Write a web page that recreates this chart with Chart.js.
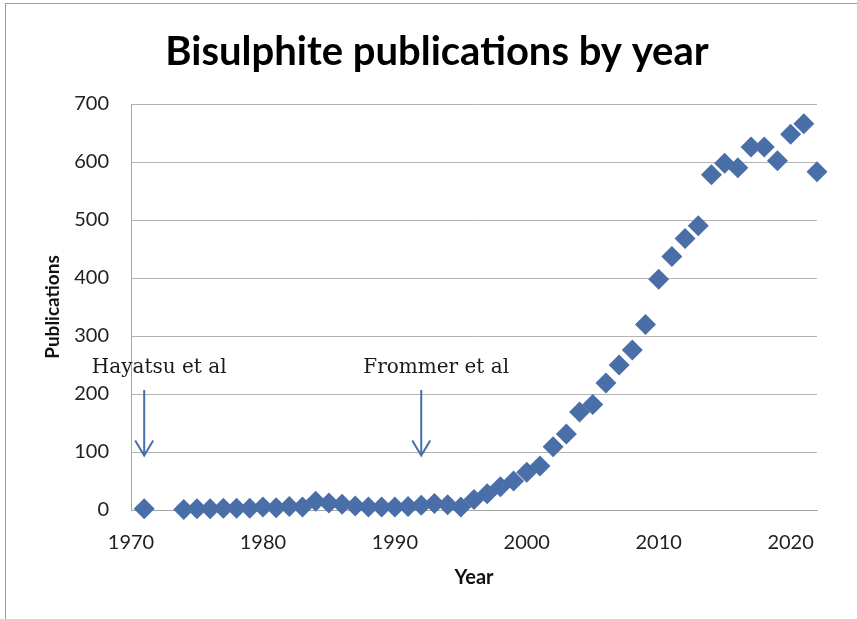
<!DOCTYPE html>
<html>
<head>
<meta charset="utf-8">
<script src="https://cdn.jsdelivr.net/npm/chart.js@4/dist/chart.umd.min.js"></script>
<style>
  html, body { margin: 0; padding: 0; background: #fff; }
  #wrap { position: relative; width: 857px; height: 619px; overflow: hidden; }
  #frame { position: absolute; left: 5px; top: 3px; right: -2px; bottom: -2px;
           border-top: 1px solid #9c9c9c; border-left: 1px solid #9c9c9c; pointer-events: none; }
  canvas { display: block; }
</style>
</head>
<body>
<div id="wrap">
  <canvas id="chart" width="857" height="619"></canvas>
  <div id="frame"></div>
</div>
<script>
// Publications per year
const years = [1971,
  1974, 1975, 1976, 1977, 1978, 1979, 1980, 1981, 1982, 1983,
  1984, 1985, 1986, 1987, 1988, 1989, 1990, 1991, 1992, 1993,
  1994, 1995, 1996, 1997, 1998, 1999, 2000, 2001, 2002, 2003,
  2004, 2005, 2006, 2007, 2008, 2009, 2010, 2011, 2012, 2013,
  2014, 2015, 2016, 2017, 2018, 2019, 2020, 2021, 2022];
const publications = [2,
  1, 2, 2, 3, 3, 3, 5, 4, 6, 5,
  15, 12, 10, 7, 5, 5, 5, 6, 8, 11,
  9, 5, 18, 28, 40, 50, 65, 76, 109, 131,
  169, 182, 219, 250, 276, 320, 398, 437, 468, 490,
  578, 598, 590, 626, 626, 602, 648, 666, 583];

// Axis ranges
const xRange = [1970, 2022];
const xStep = 10;
const yRange = [0, 700];
const yStep = 100;

// Milestone papers marked with arrows
const milestoneYears = [1971, 1992];
const milestoneLabels = ['Hayatsu et al', 'Frommer et al'];
const arrowTop = 207;
const arrowTip = 94;
const labelLevel = 245;

const BLUE = '#4a6fa8';
const SANS = 'Lato, "Noto Sans", sans-serif';

const milestonePlugin = {
  id: 'milestones',
  afterDraw(chart) {
    const { ctx, scales: { x, y } } = chart;
    ctx.save();
    milestoneYears.forEach((yr, i) => {
      const px = x.getPixelForValue(yr);
      const top = y.getPixelForValue(arrowTop);
      const tip = y.getPixelForValue(arrowTip);
      ctx.strokeStyle = BLUE;
      ctx.lineWidth = 2;
      ctx.lineCap = 'butt';
      ctx.beginPath();
      ctx.moveTo(px, top);
      ctx.lineTo(px, tip);
      ctx.moveTo(px - 9, tip - 15);
      ctx.lineTo(px, tip);
      ctx.lineTo(px + 9, tip - 15);
      ctx.stroke();

      ctx.fillStyle = '#1a1a1a';
      ctx.font = '20px "DejaVu Serif", serif';
      ctx.textAlign = 'center';
      ctx.textBaseline = 'middle';
      ctx.fillText(milestoneLabels[i], px + 15, y.getPixelForValue(labelLevel));
    });
    ctx.restore();
  }
};

new Chart(document.getElementById('chart'), {
  type: 'scatter',
  data: {
    datasets: [{
      data: years.map((yr, i) => ({ x: yr, y: publications[i] })),
      pointStyle: 'rectRot',
      pointRadius: 10.5,
      pointHoverRadius: 10.5,
      backgroundColor: BLUE,
      borderWidth: 0,
      clip: false
    }]
  },
  options: {
    responsive: false,
    animation: false,
    events: [],
    layout: { padding: { left: 17, right: 0, top: 0, bottom: 0 } },
    plugins: {
      legend: { display: false },
      tooltip: { enabled: false },
      title: {
        display: true,
        text: 'Bisulphite publications by year',
        color: '#000',
        font: { family: SANS, size: 40, weight: 'bold' },
        padding: { top: 28, bottom: 28 }
      }
    },
    scales: {
      x: {
        type: 'linear',
        position: 'bottom',
        min: xRange[0],
        max: xRange[1],
        ticks: {
          stepSize: xStep,
          includeBounds: false,
          maxRotation: 0,
          padding: 21,
          color: '#222',
          font: { family: SANS, size: 20 },
          callback: v => String(v)
        },
        grid: { display: false, drawTicks: false },
        border: { display: true, color: '#a6a6a6', width: 1 },
        title: {
          display: true,
          text: 'Year',
          color: '#111',
          font: { family: SANS, size: 20, weight: 'bold' },
          padding: { top: 0, bottom: 29 }
        },
        afterFit: s => { s.height = 109; }
      },
      y: {
        min: yRange[0],
        max: yRange[1],
        ticks: {
          stepSize: yStep,
          padding: 22,
          color: '#222',
          font: { family: SANS, size: 20 }
        },
        grid: { color: '#b3b3b3', lineWidth: 1, drawTicks: false },
        border: { display: true, color: '#a6a6a6', width: 1 },
        title: {
          display: true,
          text: 'Publications',
          color: '#111',
          font: { family: SANS, size: 19, weight: 'bold' },
          padding: { top: 24, bottom: 0 }
        },
        afterFit: s => { s.width = 114; }
      },
      // empty right-hand margin beside the plot
      yRight: {
        position: 'right',
        display: true,
        min: yRange[0],
        max: yRange[1],
        ticks: { display: false },
        grid: { display: false, drawTicks: false },
        border: { display: false },
        afterFit: s => { s.width = 40; }
      }
    }
  },
  plugins: [milestonePlugin]
});
</script>
</body>
</html>
